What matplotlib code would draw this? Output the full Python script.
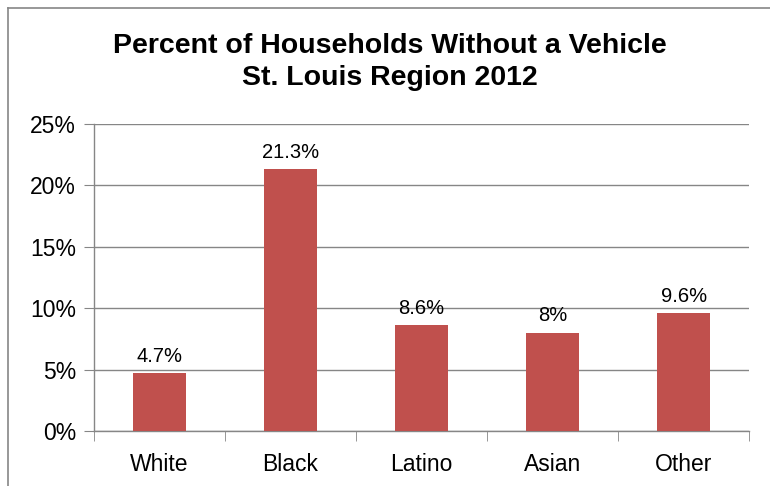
import numpy as np
import matplotlib.pyplot as plt
from matplotlib.lines import Line2D

groups = ['White', 'Black', 'Latino', 'Asian', 'Other']
pct = [4.7, 21.3, 8.6, 8.0, 9.6]
labels = ['4.7%', '21.3%', '8.6%', '8%', '9.6%']
yticks = [0, 5, 10, 15, 20, 25]

plt.rcParams['font.family'] = ['Liberation Sans', 'DejaVu Sans']

fig = plt.figure(figsize=(7.7, 4.86), dpi=100)
ax = fig.add_axes([0.122, 0.113, 0.851, 0.632])

x = np.arange(len(groups))
ax.bar(x, pct, width=0.4, color='#C0504D', zorder=3)
for xi, v, lab in zip(x, pct, labels):
    ax.text(xi, v + 0.6, lab, ha='center', va='bottom', fontsize=14.5)

ax.set_xlim(-0.5, len(groups) - 0.5)
ax.set_ylim(0, 25)
ax.set_yticks(yticks)
ax.set_yticklabels([f'{t}%' for t in yticks], fontsize=16.5)
ax.set_xticks(x)
ax.set_xticklabels(groups, fontsize=16.5)
ax.tick_params(axis='x', length=0, pad=16)
ax.tick_params(axis='y', length=7, color='#868686', pad=6)
# x-axis boundary ticks between categories
ax.set_xticks(np.arange(-0.5, len(groups)), minor=True)
ax.tick_params(axis='x', which='minor', length=7, color='#868686')
ax.grid(axis='y', color='#868686', linewidth=1, zorder=0)
for s in ['top', 'right']:
    ax.spines[s].set_visible(False)
for s in ['left', 'bottom']:
    ax.spines[s].set_color('#868686')
    ax.spines[s].set_linewidth(1)

fig.text(0.506, 0.872, 'Percent of Households Without a Vehicle\nSt. Louis Region 2012',
         ha='center', va='center', fontsize=20.5, fontweight='bold', linespacing=1.3)

# chart border (top and left visible)
fig.add_artist(Line2D([0.0104, 0.0104], [0, 0.9835], color='#868686', linewidth=1.2))
fig.add_artist(Line2D([0.0104, 1.0], [0.9835, 0.9835], color='#868686', linewidth=1.2))

fig.savefig('out.png', dpi=100)
